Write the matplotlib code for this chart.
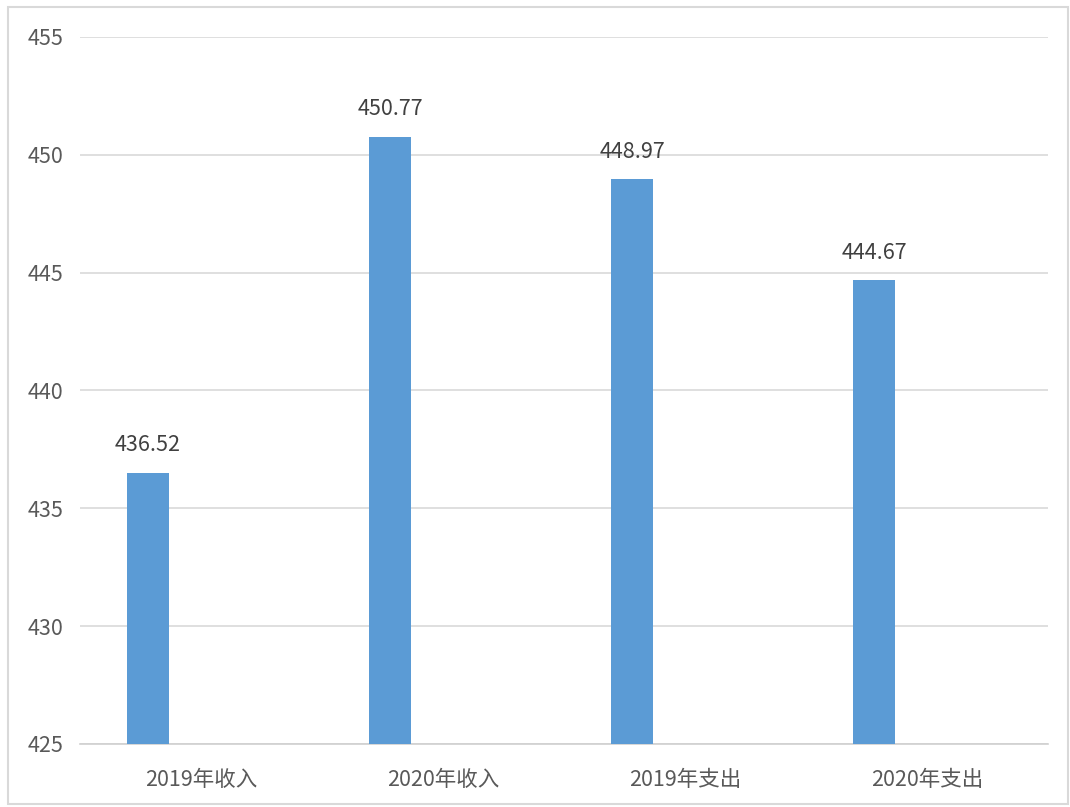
import matplotlib
matplotlib.use("Agg")
import matplotlib.pyplot as plt
from matplotlib.patches import Rectangle

plt.rcParams['font.family'] = ['Noto Sans CJK SC', 'DejaVu Sans']

categories = ["2019年收入", "2020年收入", "2019年支出", "2020年支出"]
values = [436.52, 450.77, 448.97, 444.67]
yticks = [425, 430, 435, 440, 445, 450, 455]

W, H = 1070, 807
fig = plt.figure(figsize=(W / 100, H / 100), dpi=100)
fig.patch.set_facecolor("white")
fig.patches.append(Rectangle((8 / W, 3 / H), (W - 10) / W, (H - 10) / H,
                             transform=fig.transFigure, fill=False,
                             edgecolor="#d9d9d9", linewidth=1.5))

ax = fig.add_axes([80 / W, 63 / H, (1048 - 80) / W, (744 - 37) / H])
x = list(range(len(categories)))
offset = -0.219
bw = 0.174
xb = [i + offset for i in x]
ax.bar(xb, values, width=bw, color="#5B9BD5", zorder=3)
for xi, v in zip(xb, values):
    ax.text(xi, v + 0.7, f"{v:.2f}", ha="center", va="bottom",
            fontsize=15.5, color="#404040")

ax.set_xlim(-0.5, 3.5)
ax.set_ylim(425, 455)
ax.set_yticks(yticks)
ax.set_yticklabels([str(t) for t in yticks], fontsize=15.5, color="#595959")
ax.set_xticks(x)
ax.set_xticklabels(categories, fontsize=15.5, color="#595959")
ax.tick_params(axis="both", length=0)
ax.tick_params(axis="y", pad=12)
ax.tick_params(axis="x", pad=18)
ax.grid(axis="y", color="#d9d9d9", linewidth=1.2, zorder=0)
for s in ["top", "right", "left"]:
    ax.spines[s].set_visible(False)
ax.spines["bottom"].set_color("#d0d0d0")
ax.spines["bottom"].set_linewidth(1.2)

fig.savefig("out.png", dpi=100)
